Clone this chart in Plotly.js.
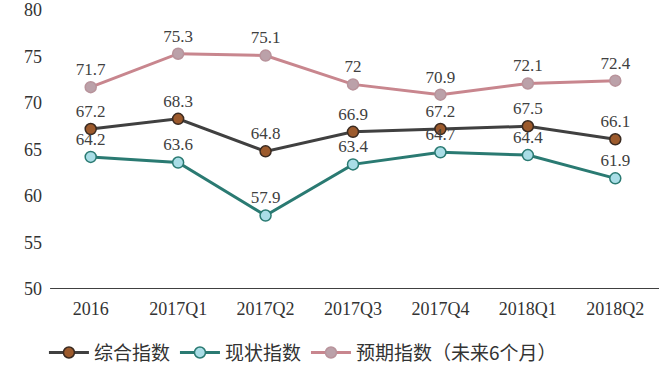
<!DOCTYPE html>
<html><head><meta charset="utf-8">
<script src="https://cdn.plot.ly/plotly-3.0.1.min.js"></script>
<style>body{margin:0;background:#fff}#c{width:663px;height:377px}</style>
</head><body><div id="c"></div>
<script>
const categories = ["2016","2017Q1","2017Q2","2017Q3","2017Q4","2018Q1","2018Q2"];
const composite = [67.2,68.3,64.8,66.9,67.2,67.5,66.1];
const current = [64.2,63.6,57.9,63.4,64.7,64.4,61.9];
const expected = [71.7,75.3,75.1,72,70.9,72.1,72.4];
const names = ["综合指数","现状指数","预期指数（未来6个月）"];

const serif = "'Liberation Serif', 'Times New Roman', serif";
const lblFont = {family:serif, size:17, color:"#404040"};
function tr(y, name, lc, mc, ml){
  return {x:categories, y:y, name:name, type:"scatter", mode:"lines+markers+text",
    text:y.map(String), textposition:"top center", textfont:lblFont, cliponaxis:false,
    line:{color:lc, width:3}, marker:{size:11, color:mc, line:{color:ml, width:1.5}}};
}
const data = [
  tr(composite, names[0], "#404040", "#9c5a2c", "#3a2a20"),
  tr(current, names[1], "#2a7a72", "#a9dde6", "#2a7a72"),
  tr(expected, names[2], "#c8868e", "#bba1a9", "#b8939b")
];
const layout = {
  width:663, height:377, margin:{l:47, r:4, t:10, b:88},
  paper_bgcolor:"#fff", plot_bgcolor:"#fff", showlegend:true,
  font:{family:serif, color:"#333"},
  xaxis:{type:"category", range:[-0.5,6.5], showgrid:false, zeroline:false, showline:false,
    ticks:"", tickfont:{family:serif, size:18, color:"#333"}, ticklabelstandoff:7},
  yaxis:{range:[50,80], tickvals:[50,55,60,65,70,75,80], showgrid:false, zeroline:false, showline:false,
    ticks:"", tickfont:{family:serif, size:18, color:"#333"}, ticklabelstandoff:4},
  shapes:[{type:"line", xref:"paper", x0:0.005, x1:1, yref:"y", y0:50, y1:50, line:{color:"#404040", width:2}}],
  legend:{orientation:"h", x:-0.005, y:-0.16, xanchor:"left", yanchor:"top",
    font:{family:"'Noto Sans CJK SC', sans-serif", size:19, color:"#333"}, itemwidth:40, traceorder:"normal"}
};
Plotly.newPlot("c", data, layout, {staticPlot:true});
</script></body></html>
